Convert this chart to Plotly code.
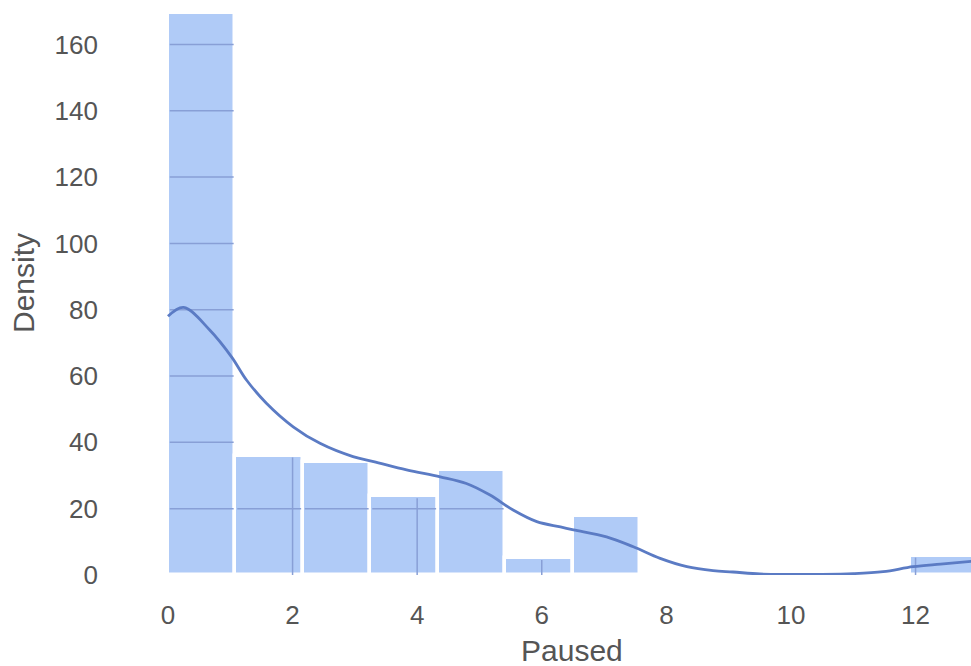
import plotly.graph_objects as go

# ---- data ----
data_min = 0.0
data_max = 13.0
bar_heights = [169.4, 36.0, 34.1, 23.7, 31.7, 5.1, 17.9, 0.0, 0.0, 0.0, 0.0, 5.8]

kde_x = [0.0, 0.25, 0.67, 1.02, 1.26, 1.58, 2.01, 2.44, 2.97, 3.30, 3.83, 4.37, 4.79,
         5.17, 5.54, 5.92, 6.30, 6.51, 7.04, 7.47, 7.90, 8.33, 8.75, 9.07, 9.5, 10.0,
         10.5, 11.0, 11.48, 11.96, 12.4, 13.0]
kde_y = [78.0, 80.7, 73.9, 65.8, 58.8, 51.8, 44.7, 39.7, 35.7, 34.2, 31.7, 29.6, 27.6,
         24.1, 19.6, 16.1, 14.5, 13.6, 11.5, 8.5, 5.0, 2.5, 1.3, 0.9, 0.3, 0.2,
         0.2, 0.4, 1.0, 2.5, 3.3, 4.3]

x_ticks = [0, 2, 4, 6, 8, 10, 12]
y_ticks = [0, 20, 40, 60, 80, 100, 120, 140, 160]
x_label = "Paused"
y_label = "Density"

# ---- styles ----
BAR_COLOR = "#b0cbf7"
GRID_COLOR = "#889fd6"
KDE_COLOR = "#5b7bc4"
TEXT_COLOR = "#555555"
FONT = "Liberation Sans, Arial, sans-serif"

n_bins = len(bar_heights)
bw = (data_max - data_min) / n_bins
lefts = [data_min + i * bw for i in range(n_bins)]
centers = [l + bw / 2 for l in lefts]

X_RANGE = [-0.77, 12.89]
Y_RANGE = [0, 173.4]
W, H = 971, 666
ML, MR, MT, MB = 120, 0, 0, 91
px_per_x = (W - ML - MR) / (X_RANGE[1] - X_RANGE[0])
px_per_y = (H - MT - MB) / (Y_RANGE[1] - Y_RANGE[0])
inset_x = 1.8 / px_per_x
inset_y = 1.8 / px_per_y

# grid segments visible only inside bars
gx, gy = [], []
for l, h in zip(lefts, bar_heights):
    if h <= 0:
        continue
    for yt in y_ticks[1:]:
        if yt < h - inset_y:
            gx += [l + inset_x, l + bw - inset_x, None]
            gy += [yt, yt, None]
    for xt in x_ticks:
        if l + inset_x < xt < l + bw - inset_x:
            gx += [xt, xt, None]
            gy += [0, h - inset_y, None]

fig = go.Figure()
fig.add_trace(go.Bar(
    x=centers, y=bar_heights, width=bw,
    marker=dict(color=BAR_COLOR, line=dict(color="white", width=3.5)),
    hoverinfo="skip", showlegend=False,
))
fig.add_trace(go.Scatter(
    x=gx, y=gy, mode="lines", line=dict(color=GRID_COLOR, width=1.5),
    hoverinfo="skip", showlegend=False,
))
fig.add_trace(go.Scatter(
    x=kde_x, y=kde_y, mode="lines", line=dict(color=KDE_COLOR, width=2.8, shape="spline"),
    hoverinfo="skip", showlegend=False,
))

fig.update_layout(
    width=W, height=H,
    margin=dict(l=ML, r=MR, t=MT, b=MB, pad=0),
    paper_bgcolor="white", plot_bgcolor="white",
    font=dict(family=FONT, color=TEXT_COLOR, size=26),
    bargap=0,
    xaxis=dict(range=X_RANGE, tickvals=x_ticks, ticktext=[str(v) for v in x_ticks],
               showgrid=False, zeroline=False, showline=False, ticks="",
               ticklabelstandoff=22, tickfont=dict(size=26, color=TEXT_COLOR)),
    yaxis=dict(range=Y_RANGE, tickvals=y_ticks, ticktext=[str(v) for v in y_ticks],
               showgrid=False, zeroline=False, showline=False, ticks="",
               ticklabelstandoff=21, tickfont=dict(size=26, color=TEXT_COLOR)),
    annotations=[
        dict(text=x_label, xref="paper", yref="paper",
             x=(572 - ML) / (W - ML - MR), y=-(650 - (H - MB)) / (H - MT - MB),
             xanchor="center", yanchor="middle", showarrow=False,
             font=dict(size=30, color=TEXT_COLOR, family=FONT)),
        dict(text=y_label, xref="paper", yref="paper", textangle=-90,
             x=-(ML - 23) / (W - ML - MR), y=1 - (283 - MT) / (H - MT - MB),
             xanchor="center", yanchor="middle", showarrow=False,
             font=dict(size=30, color=TEXT_COLOR, family=FONT)),
    ],
)

fig.write_html("out.html")
